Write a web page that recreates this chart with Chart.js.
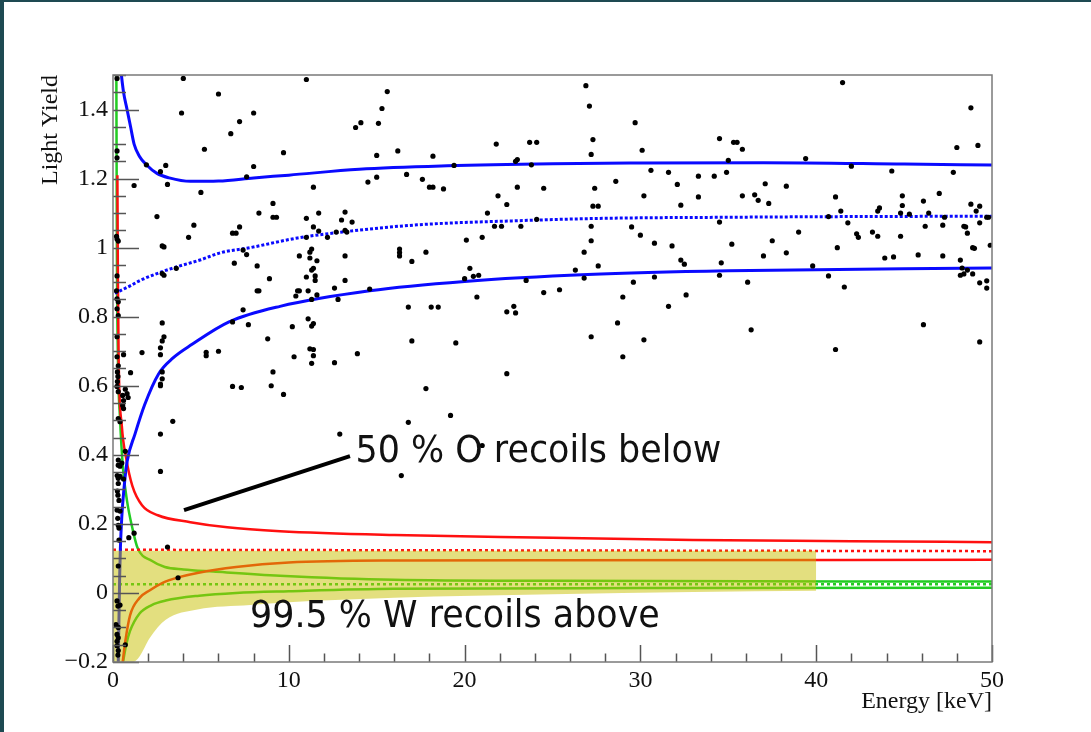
<!DOCTYPE html>
<html>
<head>
<meta charset="utf-8">
<script src="https://cdn.jsdelivr.net/npm/chart.js@4.4.1/dist/chart.umd.min.js"></script>
<style>
  html, body { margin: 0; padding: 0; background: #fff; }
  #wrap { position: relative; width: 1091px; height: 732px; overflow: hidden; background: #fff; }
  .edge { position: absolute; background: #1e4a52; }
</style>
</head>
<body>
<div id="wrap">
  <canvas id="lyChart" width="1091" height="732"></canvas>
  <div class="edge" style="left:0;top:0;width:1091px;height:2px"></div>
  <div class="edge" style="left:0;top:0;width:4px;height:732px"></div>
</div>
<script>
// Axis ticks
const xTicks = [0, 10, 20, 30, 40, 50];
const yTicks = [-0.2, 0, 0.2, 0.4, 0.6, 0.8, 1, 1.2, 1.4];

// Measured events: recoil energy [keV] and light yield
const eventE = [
  0.23,0.23,0.23,1.2,0.2,0.23,0.3,0.23,0.2,0.23,0.3,0.23,0.3,0.23,0.6,1.65,0.23,0.3,0.25,0.28,
  0.25,0.23,0.3,0.55,0.6,0.8,1.0,0.7,0.86,0.6,0.3,0.4,0.55,0.7,0.3,0.3,0.4,0.5,0.24,0.3,
  0.4,0.6,0.3,0.25,0.28,0.34,0.23,0.4,0.27,0.3,0.34,1.2,0.9,0.34,0.3,0.23,0.28,0.4,0.17,0.3,
  0.23,0.3,0.23,0.7,0.23,0.3,0.28,
  3.1,3.7,2.7,2.7,2.8,2.8,3.4,2.7,2.7,6.8,7.3,9.0,9.1,
  4.0,6.0,3.9,8.0,7.2,6.7,5.2,9.7,1.9,3.0,2.7,8.0,7.6,3.1,5.0,9.1,8.3,9.1,9.3,2.5,
  4.6,7.2,6.8,7.0,4.3,2.8,2.9,7.4,7.6,6.9,8.2,3.6,2.8,2.9,8.9,8.3,10.4,10.5,7.4,6.8,
  7.7,10.2,2.8,2.9,2.8,2.7,8.8,2.7,5.3,5.3,6.0,10.3,
  11.0,15.6,15.3,14.1,13.8,15.1,26.9,27.1,27.3,27.2,21.8,23.7,24.1,16.2,15.0,18.2,19.4,22.9,23.0,23.8,
  11.4,14.5,15.0,16.7,17.6,18.0,18.2,18.8,21.9,23.0,24.5,22.4,27.4,27.3,27.6,11.7,13.2,11.0,13.0,13.6,
  11.4,11.7,13.2,13.3,12.7,12.2,11.0,21.3,21.7,22.1,23.2,24.1,27.2,27.2,26.8,27.6,21.0,20.1,11.3,11.2,
  10.6,11.2,11.6,13.2,11.4,11.3,16.3,16.3,16.3,17.0,17.8,20.3,20.5,20.8,20.0,11.0,11.5,11.5,13.2,10.6,
  11.1,8.2,12.6,11.6,12.8,11.3,14.6,20.7,23.5,24.5,25.4,26.3,26.8,22.8,16.8,18.1,18.5,
  11.1,11.3,11.4,11.2,11.4,11.4,11.3,12.6,9.7,13.9,17.0,17.8,16.8,19.2,19.5,22.4,22.9,22.4,29.0,29.6,
  28.7,27.2,29.0,30.2,12.9,21.0,16.4,
  29.7,30.1,30.6,31.6,32.1,33.3,34.2,34.5,35.3,35.5,35.8,34.9,35.0,39.4,41.5,42.0,44.3,48.0,48.8,49.2,
  47.8,28.6,30.2,32.3,33.3,35.8,36.5,36.7,37.3,37.1,38.3,41.1,41.4,41.8,42.3,42.4,43.2,43.5,43.5,43.6,
  44.8,44.9,44.9,45.3,46.1,46.4,46.2,47.0,47.2,47.3,48.4,48.5,48.6,48.8,49.3,49.1,49.3,49.7,49.8,49.9,
  48.9,49.0,44.8,40.7,41.2,39.0,37.5,37.0,38.3,35.2,30.0,29.5,30.8,31.8,32.3,32.5,34.5,34.6,34.5,36.1,
  43.9,44.4,45.8,47.2,48.2,48.3,48.2,48.4,48.6,48.9,49.3,49.7,49.7,39.8,40.7,41.6,30.8,31.6,32.6,
  36.3,46.1,41.1,49.3
];
const eventLY = [
  1.49,1.28,1.26,1.18,1.033,1.025,1.019,0.918,0.875,0.852,0.843,0.823,0.803,0.742,0.69,0.696,0.684,0.658,0.64,0.627,
  0.612,0.598,0.583,0.572,0.557,0.577,0.638,0.59,0.566,0.534,0.505,0.496,0.543,0.41,0.385,0.37,0.367,0.376,0.34,0.332,
  0.338,0.33,0.317,0.295,0.283,0.268,0.24,0.237,0.216,0.196,0.188,0.173,0.16,0.153,0.078,-0.023,-0.038,-0.035,-0.092,-0.1,
  -0.12,-0.13,-0.14,-0.15,-0.153,-0.167,-0.18,
  0.133,0.044,0.605,0.60,0.62,0.64,0.497,0.46,0.352,0.598,0.595,0.60,0.64,
  1.49,1.445,1.39,1.39,1.365,1.33,1.285,1.275,1.24,1.238,1.22,1.235,1.205,1.183,1.16,1.128,1.10,1.088,1.088,1.09,
  1.065,1.06,1.042,1.042,1.03,1.005,1.002,0.993,0.98,0.955,0.947,0.94,0.925,0.92,0.91,0.875,0.86,0.875,0.82,0.785,
  0.777,0.771,0.782,0.742,0.73,0.71,0.736,0.69,0.697,0.687,0.70,0.684,
  1.487,1.452,1.403,1.362,1.348,1.36,1.469,1.41,1.313,1.27,1.30,1.305,1.305,1.28,1.267,1.265,1.238,1.25,1.255,1.24,
  1.175,1.19,1.204,1.212,1.198,1.175,1.175,1.17,1.15,1.175,1.172,1.125,1.172,1.12,1.12,1.10,1.103,1.085,1.08,1.074,
  1.06,1.048,1.05,1.045,1.045,1.03,1.03,1.10,1.062,1.062,1.062,1.082,1.062,1.02,0.987,0.947,1.03,1.022,0.996,0.987,
  0.976,0.97,0.962,0.976,0.94,0.935,0.996,0.986,0.976,0.96,0.987,0.94,0.917,0.92,0.91,0.915,0.918,0.905,0.905,0.875,
  0.875,0.875,0.883,0.863,0.85,0.85,0.88,0.857,0.905,0.87,0.878,0.935,0.912,0.83,0.828,0.828,0.828,
  0.794,0.773,0.78,0.707,0.687,0.705,0.665,0.667,0.575,0.693,0.73,0.592,0.494,0.514,0.724,0.814,0.811,0.635,0.857,0.90,
  0.782,0.742,0.684,0.733,0.46,0.427,0.34,
  1.362,1.282,1.224,1.218,1.183,1.207,1.207,1.316,1.305,1.305,1.285,1.218,1.253,1.258,1.478,1.236,1.222,1.29,1.405,1.296,
  1.218,1.192,1.15,1.123,1.147,1.15,1.153,1.137,1.128,1.185,1.178,1.147,1.106,1.072,1.04,1.03,1.045,1.033,1.106,1.115,
  1.10,1.122,1.15,1.097,1.135,1.10,1.062,1.157,1.065,1.088,1.062,1.06,1.042,1.126,1.12,1.106,1.072,1.088,1.088,1.007,
  1.0,0.998,1.033,1.09,1.0,1.045,1.02,0.976,0.985,1.01,1.036,1.06,1.013,1.005,0.964,0.952,1.074,0.956,0.92,0.90,
  0.97,0.973,0.979,0.976,0.964,0.941,0.92,0.924,0.935,0.924,0.898,0.904,0.883,0.947,0.918,0.886,0.915,0.83,0.863,
  0.762,0.777,0.705,0.727
];

// Blue band: upper / mean / lower light-yield curves
const blueUpE  = [0.43, 0.6, 0.8, 1.0, 1.2, 1.5, 1.9, 2.5, 3.2, 4.4, 6, 8, 10, 14, 19, 25, 30, 37, 45, 50];
const blueUpLY = [1.52, 1.45, 1.40, 1.35, 1.30, 1.265, 1.24, 1.215, 1.202, 1.192, 1.193, 1.202, 1.21, 1.227, 1.237, 1.243, 1.245, 1.246, 1.242, 1.239];
const blueMeanE  = [0.1, 0.4, 1.0, 1.5, 2.5, 3.6, 5, 6.1, 7.8, 10.5, 13, 17.3, 23, 28, 35, 42, 50];
const blueMeanLY = [0.868, 0.875, 0.89, 0.904, 0.925, 0.944, 0.965, 0.985, 1.0, 1.028, 1.045, 1.066, 1.078, 1.085, 1.088, 1.09, 1.091];
const blueLoE  = [0.3, 0.38, 0.42, 0.5, 0.62, 0.8, 1.25, 1.8, 2.6, 3.4, 4.5, 6.6, 9.5, 14.6, 20, 27, 35, 50];
const blueLoLY = [-0.2, 0.05, 0.13, 0.22, 0.3, 0.38, 0.46, 0.545, 0.635, 0.68, 0.72, 0.785, 0.83, 0.875, 0.902, 0.922, 0.933, 0.941];

// Red band
const redUpE  = [0.25, 0.28, 0.32, 0.5, 0.75, 1.1, 1.65, 2.55, 4.4, 6.5, 9.5, 16, 25, 33, 42, 50];
const redUpLY = [1.21, 0.9, 0.68, 0.485, 0.39, 0.31, 0.254, 0.225, 0.205, 0.19, 0.179, 0.168, 0.16, 0.153, 0.15, 0.147];
const redMeanE  = [0, 50];
const redMeanLY = [0.125, 0.121];
const redLoE  = [0.55, 0.7, 0.97, 1.5, 2.1, 2.85, 3.7, 4.8, 7, 10, 16, 25, 50];
const redLoLY = [-0.2, -0.14, -0.065, -0.015, 0.008, 0.03, 0.045, 0.058, 0.075, 0.088, 0.094, 0.095, 0.096];

// Green band
const greenUpE  = [0.19, 0.22, 0.28, 0.4, 0.57, 0.8, 1.1, 1.4, 2.2, 2.95, 4, 5.7, 9.5, 16, 25, 50];
const greenUpLY = [1.52, 1.0, 0.68, 0.505, 0.36, 0.266, 0.188, 0.13, 0.093, 0.075, 0.068, 0.062, 0.05, 0.038, 0.035, 0.033];
const greenMeanE  = [0, 50];
const greenMeanLY = [0.025, 0.025];
const greenLoE  = [0.57, 0.75, 0.97, 1.5, 2.2, 3.0, 4.9, 7, 10, 16, 30, 50];
const greenLoLY = [-0.2, -0.15, -0.11, -0.06, -0.035, -0.022, -0.008, 0.0, 0.005, 0.012, 0.014, 0.015];

// Acceptance region (shaded), lower edge and flat top
const bandE   = [0, 1.15, 1.5, 2.1, 3.0, 4.8, 7.8, 10, 16, 25, 33, 40];
const bandLow = [-0.2, -0.2, -0.185, -0.13, -0.078, -0.048, -0.035, -0.027, -0.014, -0.004, 0.003, 0.006];
const bandTop = 0.122;

// Pointer line for the O-recoil label
const pointerE  = [4.04, 13.48];
const pointerLY = [0.24, 0.396];

const labels = [
  { text: '50 % O recoils below', e0: 13.8, e1: 34.6, ly: 0.38 },
  { text: '99.5 % W recoils above', e0: 7.8, e1: 31.1, ly: -0.1 }
];

const SERIF = 'Liberation Serif';
const toXY = (xs, ys) => xs.map((x, i) => ({ x: x, y: ys[i] }));

function curve(xs, ys, color, width, dash) {
  return {
    data: toXY(xs, ys),
    showLine: true,
    borderColor: color,
    borderWidth: width,
    borderDash: dash || [],
    pointRadius: 0,
    fill: false,
    cubicInterpolationMode: 'monotone',
    order: 3
  };
}

const BLUE = '#0a0aff', RED = '#ff1010', GREEN = '#22cc22';

// ROOT-style frame: box around the pad plus ticks pointing inward, and the text labels
const rootFrame = {
  id: 'rootFrame',
  afterDatasetsDraw(chart) {
    const { ctx, scales: { x, y } } = chart;
    ctx.save();
    ctx.fillStyle = '#111';
    ctx.textBaseline = 'alphabetic';
    ctx.font = '37px "DejaVu Sans"';
    labels.forEach(l => {
      const px0 = x.getPixelForValue(l.e0);
      const px1 = x.getPixelForValue(l.e1);
      const w = ctx.measureText(l.text).width;
      ctx.save();
      ctx.translate(px0, y.getPixelForValue(l.ly));
      ctx.scale((px1 - px0) / w, 1);
      ctx.fillText(l.text, 0, 0);
      ctx.restore();
    });
    ctx.restore();
  },
  afterDraw(chart) {
    const { ctx, chartArea: a, scales: { x, y } } = chart;
    ctx.save();
    ctx.strokeStyle = '#555';
    ctx.lineWidth = 1.5;
    ctx.beginPath();
    // x ticks: major every 10, minor every 2
    for (let v = 0; v <= 50; v += 2) {
      const px = Math.round(x.getPixelForValue(v)) + 0.5;
      const len = v % 10 === 0 ? 17 : 8.5;
      ctx.moveTo(px, a.bottom);
      ctx.lineTo(px, a.bottom - len);
    }
    // y ticks: major every 0.2, minor every 0.05
    for (let i = 0; i <= 34; i++) {
      const v = -0.2 + i * 0.05;
      const py = Math.round(y.getPixelForValue(v)) + 0.5;
      const len = i % 4 === 0 ? 26 : 13;
      ctx.moveTo(a.left, py);
      ctx.lineTo(a.left + len, py);
    }
    ctx.stroke();
    ctx.strokeStyle = '#7a7a7a';
    ctx.lineWidth = 1.5;
    ctx.strokeRect(a.left, a.top, a.right - a.left, a.bottom - a.top);
    ctx.restore();
  }
};

const fmt = v => {
  if (Math.abs(v) < 1e-9) return '0';
  const s = String(Number(Math.abs(v).toFixed(2)));
  return (v < 0 ? '\u22120' + s.slice(1) : s).replace('\u221200.', '\u22120.');
};

new Chart(document.getElementById('lyChart'), {
  type: 'scatter',
  data: {
    datasets: [
      {
        data: toXY(pointerE, pointerLY),
        showLine: true,
        borderColor: '#000',
        borderWidth: 4,
        pointRadius: 0,
        order: 0
      },
      {
        data: toXY(eventE, eventLY),
        backgroundColor: '#000',
        borderWidth: 0,
        pointRadius: 2.6,
        order: 1
      },
      {
        data: toXY(bandE, bandLow),
        showLine: true,
        borderWidth: 0,
        borderColor: 'rgba(0,0,0,0)',
        backgroundColor: 'rgba(200,192,0,0.5)',
        pointRadius: 0,
        fill: { value: bandTop },
        cubicInterpolationMode: 'monotone',
        order: 2
      },
      curve(blueUpE, blueUpLY, BLUE, 3),
      curve(blueMeanE, blueMeanLY, BLUE, 3, [3, 2]),
      curve(blueLoE, blueLoLY, BLUE, 3),
      curve(redUpE, redUpLY, RED, 2.5),
      curve(redMeanE, redMeanLY, RED, 2.5, [3, 3]),
      curve(redLoE, redLoLY, RED, 2.5),
      curve(greenUpE, greenUpLY, GREEN, 2.5),
      curve(greenMeanE, greenMeanLY, GREEN, 2.5, [3, 3]),
      curve(greenLoE, greenLoLY, GREEN, 2.5)
    ]
  },
  options: {
    responsive: false,
    animation: false,
    events: [],
    devicePixelRatio: 1,
    layout: { padding: { left: 0, top: 75, right: 99, bottom: 0 } },
    plugins: { legend: { display: false }, tooltip: { enabled: false } },
    scales: {
      x: {
        type: 'linear',
        min: 0,
        max: 50,
        afterBuildTicks: s => { s.ticks = xTicks.map(v => ({ value: v })); },
        afterFit: s => { s.height = 70; },
        grid: { display: false, drawTicks: false },
        border: { display: false },
        ticks: { font: { family: SERIF, size: 24 }, color: '#111', padding: 4, maxRotation: 0, autoSkip: false },
        title: {
          display: true, text: 'Energy [keV]', align: 'end', color: '#111',
          font: { family: SERIF, size: 24 }, padding: { top: 0, bottom: 16 }
        }
      },
      y: {
        type: 'linear',
        min: -0.2,
        max: 1.5,
        afterBuildTicks: s => { s.ticks = yTicks.map(v => ({ value: v })); },
        afterFit: s => { s.width = 113; },
        grid: { display: false, drawTicks: false },
        border: { display: false },
        ticks: { font: { family: SERIF, size: 24 }, color: '#111', padding: 5, autoSkip: false, callback: v => fmt(v) },
        title: {
          display: true, text: 'Light Yield', align: 'end', color: '#111',
          font: { family: SERIF, size: 24 }, padding: { top: 36, bottom: 0 }
        }
      }
    }
  },
  plugins: [rootFrame]
});
</script>
</body>
</html>
